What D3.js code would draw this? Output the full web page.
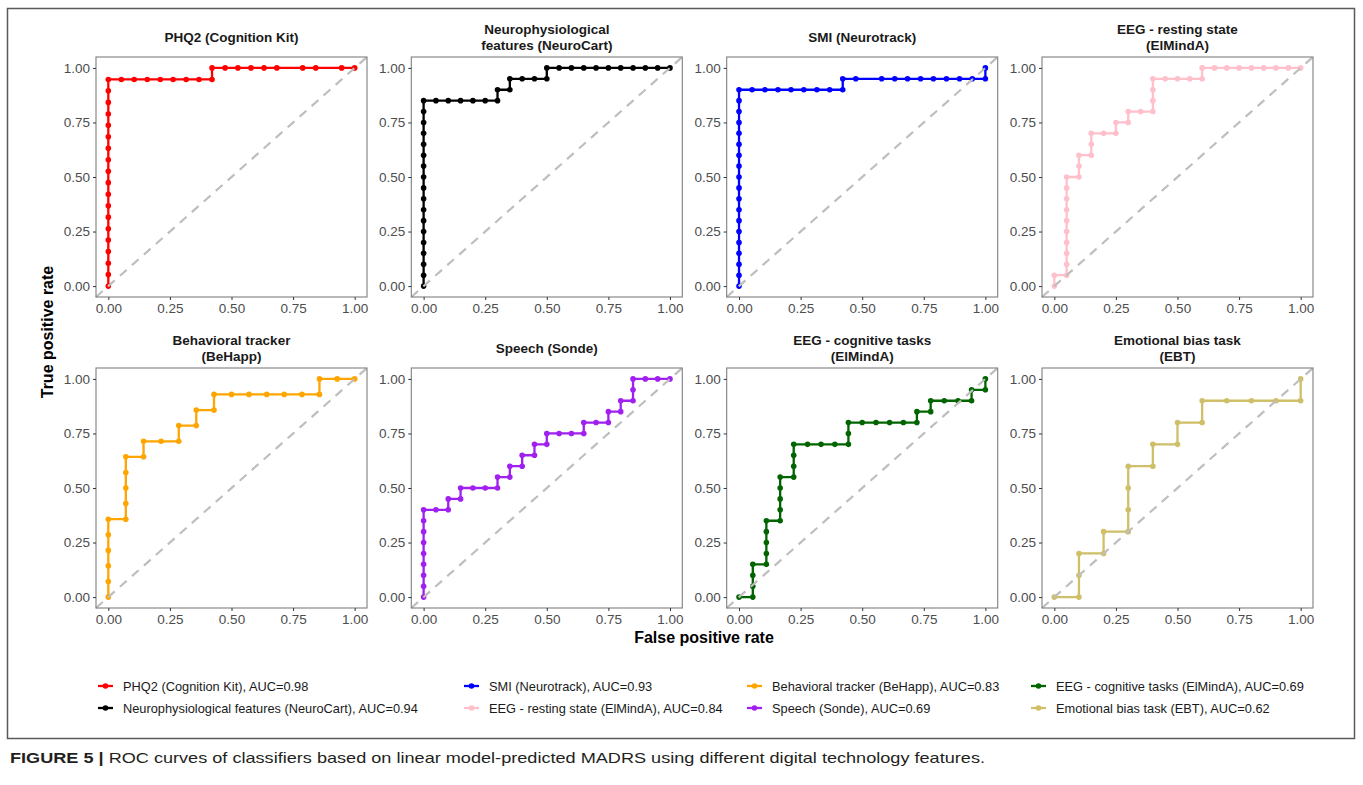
<!DOCTYPE html>
<html>
<head>
<meta charset="utf-8">
<script src="https://cdn.jsdelivr.net/npm/d3@7"></script>
<style>
  body { margin: 0; background: #fff; }
  svg { font-family: "Liberation Sans", Arial, sans-serif; }
</style>
</head>
<body>
<script>
// panel titles, legend labels, tick labels
var titles = [
  ["PHQ2 (Cognition Kit)"], ["Neurophysiological", "features (NeuroCart)"], ["SMI (Neurotrack)"], ["EEG - resting state", "(ElMindA)"],
  ["Behavioral tracker", "(BeHapp)"], ["Speech (Sonde)"], ["EEG - cognitive tasks", "(ElMindA)"], ["Emotional bias task", "(EBT)"]
]
var legendLabels = [
  "PHQ2 (Cognition Kit), AUC=0.98", "Neurophysiological features (NeuroCart), AUC=0.94",
  "SMI (Neurotrack), AUC=0.93", "EEG - resting state (ElMindA), AUC=0.84",
  "Behavioral tracker (BeHapp), AUC=0.83", "Speech (Sonde), AUC=0.69",
  "EEG - cognitive tasks (ElMindA), AUC=0.69", "Emotional bias task (EBT), AUC=0.62"
]
var ticks = [0, 0.25, 0.5, 0.75, 1]

// ROC curves (false positive rate, true positive rate)
var phq2Fpr = [0,0,0,0,0,0,0,0,0,0,0,0,0,0,0,0,0,0,0, .053,.105,.158,.211,.263,.316,.368,.421, .421,.474,.526,.579,.632,.684,.789,.842,.947,1]
var phq2Tpr = [0,.053,.105,.158,.211,.263,.316,.368,.421,.474,.526,.579,.632,.684,.737,.789,.842,.895,.947, .947,.947,.947,.947,.947,.947,.947,.947, 1,1,1,1,1,1,1,1,1,1]

var neuroFpr = [0,0,0,0,0,0,0,0,0,0,0,0,0,0,0,0,0,0, .05,.1,.15,.2,.25,.3, .3,.35,.35,.4,.45,.5, .5,.55,.6,.65,.7,.75,.8,.85,.9,.95,1]
var neuroTpr = [0,.05,.1,.15,.2,.25,.3,.35,.4,.45,.5,.55,.6,.65,.7,.75,.8,.85, .85,.85,.85,.85,.85,.85, .9,.9,.95,.95,.95,.95, 1,1,1,1,1,1,1,1,1,1,1]

var smiFpr = [0,0,0,0,0,0,0,0,0,0,0,0,0,0,0,0,0,0,0, .053,.105,.158,.211,.263,.316,.368,.421, .421,.474,.579,.632,.684,.737,.789,.842,.895,.947,1, 1]
var smiTpr = [0,.05,.1,.15,.2,.25,.3,.35,.4,.45,.5,.55,.6,.65,.7,.75,.8,.85,.9, .9,.9,.9,.9,.9,.9,.9,.9, .95,.95,.95,.95,.95,.95,.95,.95,.95,.95,.95, 1]

var eegRestFpr = [0,0,.05,.05,.05,.05,.05,.05,.05,.05,.05,.05, .1,.1,.1, .15,.15,.15, .2,.25,.25,.3,.3,.35, .4,.4,.4,.4, .45,.5,.55,.6, .6,.65,.7,.75,.8,.85,.9,.95,1]
var eegRestTpr = [0,.05,.05,.1,.15,.2,.25,.3,.35,.4,.45,.5, .5,.55,.6, .6,.65,.7, .7,.7,.75,.75,.8,.8, .8,.85,.9,.95, .95,.95,.95,.95, 1,1,1,1,1,1,1,1,1]

var behappFpr = [0,0,0,0,0,0, .071,.071,.071,.071,.071, .143,.143, .214,.286,.286, .357,.357, .429,.429, .5,.571,.643,.714,.786,.857, .857,.929,1]
var behappTpr = [0,.071,.143,.214,.286,.357, .357,.429,.5,.571,.643, .643,.714, .714,.714,.786, .786,.857, .857,.929, .929,.929,.929,.929,.929,.929, 1,1,1]

var speechFpr = [0,0,0,0,0,0,0,0,0, .05,.1,.1,.15,.15,.2,.25,.3,.3,.35,.35,.4,.4,.45,.45,.5,.5,.55,.6,.65,.65,.7,.75,.75,.8,.8,.85,.85,.85,.9,.95,1]
var speechTpr = [0,.05,.1,.15,.2,.25,.3,.35,.4, .4,.4,.45,.45,.5,.5,.5,.5,.55,.55,.6,.6,.65,.65,.7,.7,.75,.75,.75,.75,.8,.8,.8,.85,.85,.9,.9,.95,1,1,1,1]

var eegCogFpr = [0,.056,.056,.056,.056, .111,.111,.111,.111,.111, .167,.167,.167,.167,.167, .222,.222,.222,.222, .278,.333,.389,.444,.444,.444, .5,.556,.611,.667,.722,.722,.778,.778,.833,.889,.944,.944,1,1]
var eegCogTpr = [0,0,.05,.1,.15, .15,.2,.25,.3,.35, .35,.4,.45,.5,.55, .55,.6,.65,.7, .7,.7,.7,.7,.75,.8, .8,.8,.8,.8,.8,.85,.85,.9,.9,.9,.9,.95,.95,1]

var ebtFpr = [0,.1,.1,.1,.2,.2,.3,.3,.3,.3,.4,.4,.5,.5,.6,.6,.7,.8,.9,1,1]
var ebtTpr = [0,0,.1,.2,.2,.3,.3,.4,.5,.6,.6,.7,.7,.8,.8,.9,.9,.9,.9,.9,1]

var colors = ["#ff0000", "#000000", "#0000ff", "#ffc0cb", "#ffa500", "#a020f0", "#006400", "#cfbf68"]
// legend is filled column by column: PHQ2, Neuro, SMI, EEG rest, BeHapp, Speech, EEG cog, EBT
var legendColors = ["#ff0000", "#000000", "#0000ff", "#ffc0cb", "#ffa500", "#a020f0", "#006400", "#cfbf68"]

var series = [
  [phq2Fpr, phq2Tpr], [neuroFpr, neuroTpr], [smiFpr, smiTpr], [eegRestFpr, eegRestTpr],
  [behappFpr, behappTpr], [speechFpr, speechTpr], [eegCogFpr, eegCogTpr], [ebtFpr, ebtTpr]
]

var W = 1363, H = 785
var svg = d3.select("body").append("svg")
  .attr("width", W)
  .attr("height", H)

// figure frame
svg.append("rect")
  .attr("x", 7.5).attr("y", 8.5)
  .attr("width", 1347).attr("height", 730)
  .attr("fill", "none").attr("stroke", "#5a5a5a").attr("stroke-width", 1.5)

var pw = 271, ph = 240
var lefts = [96, 411.3, 726.7, 1042]
var tops = [57, 368]

var x = d3.scaleLinear().domain([-0.05, 1.05]).range([0, pw])
var y = d3.scaleLinear().domain([-0.05, 1.05]).range([ph, 0])
var fmt = d3.format(".2f")

series.forEach(function (s, i) {
  var col = i % 4, row = Math.floor(i / 4)
  var g = svg.append("g").attr("transform", "translate(" + lefts[col] + "," + tops[row] + ")")

  var pts = s[0].map(function (d, j) { return [d, s[1][j]] })

  g.append("path")
    .attr("d", d3.line().x(function (d) { return x(d[0]) }).y(function (d) { return y(d[1]) })(pts))
    .attr("fill", "none")
    .attr("stroke", colors[i])
    .attr("stroke-width", 2.3)

  g.selectAll("circle.pt")
    .data(pts)
    .enter()
  .append("circle")
    .attr("cx", function (d) { return x(d[0]) })
    .attr("cy", function (d) { return y(d[1]) })
    .attr("r", 2.8)
    .attr("fill", colors[i])

  // chance diagonal across the whole panel
  g.append("line")
    .attr("x1", x(-0.05)).attr("y1", y(-0.05))
    .attr("x2", x(1.05)).attr("y2", y(1.05))
    .attr("stroke", "#bebebe")
    .attr("stroke-width", 2.2)
    .attr("stroke-dasharray", "9,7")

  g.append("rect")
    .attr("width", pw).attr("height", ph)
    .attr("fill", "none").attr("stroke", "#7f7f7f").attr("stroke-width", 1.1)

  var xa = g.append("g").attr("transform", "translate(0," + ph + ")")
    .call(d3.axisBottom(x).tickValues(ticks).tickFormat(fmt).tickSize(3).tickPadding(3))
  var ya = g.append("g")
    .call(d3.axisLeft(y).tickValues(ticks).tickFormat(fmt).tickSize(3).tickPadding(3))
  ;[xa, ya].forEach(function (a) {
    a.select(".domain").remove()
    a.selectAll("line").attr("stroke", "#333")
    a.selectAll("text").attr("fill", "#4d4d4d").style("font-size", "13.5px").style("font-family", "Liberation Sans, Arial, sans-serif")
  })

  var t = titles[i]
  var base = t.length == 1 ? -15 : -23
  g.selectAll("text.title")
    .data(t)
    .enter()
  .append("text")
    .attr("class", "title")
    .attr("x", pw / 2)
    .attr("y", function (d, k) { return base + k * 16 })
    .attr("text-anchor", "middle")
    .style("font-size", "13.5px")
    .style("font-weight", "bold")
    .attr("fill", "#1a1a1a")
    .text(function (d) { return d })
})

// axis titles
svg.append("text")
  .attr("x", 704).attr("y", 643)
  .attr("text-anchor", "middle")
  .style("font-size", "16px").style("font-weight", "bold")
  .text("False positive rate")
svg.append("text")
  .attr("transform", "translate(53,332) rotate(-90)")
  .attr("text-anchor", "middle")
  .style("font-size", "16px").style("font-weight", "bold")
  .text("True positive rate")

// legend, two rows, filled column by column
var legX = [98, 464, 747, 1031]
var legY = [686, 708]
var leg = svg.selectAll("g.leg")
  .data(legendLabels)
  .enter()
.append("g")
  .attr("transform", function (d, i) { return "translate(" + legX[Math.floor(i / 2)] + "," + legY[i % 2] + ")" })
leg.append("line")
  .attr("x1", 0).attr("x2", 15)
  .attr("stroke", function (d, i) { return legendColors[i] })
  .attr("stroke-width", 2.3)
leg.append("circle")
  .attr("cx", 7.5).attr("r", 2.8)
  .attr("fill", function (d, i) { return legendColors[i] })
leg.append("text")
  .attr("x", 25).attr("y", 4.5)
  .style("font-size", "12.8px")
  .attr("fill", "#1a1a1a")
  .text(function (d) { return d })

// caption
var cap = svg.append("text")
  .attr("x", 10).attr("y", 763)
  .attr("textLength", 975).attr("lengthAdjust", "spacingAndGlyphs")
  .style("font-size", "15px")
  .style("font-family", "Liberation Sans Narrow, Liberation Sans, Arial, sans-serif")
  .attr("fill", "#231f20")
cap.append("tspan").style("font-weight", "bold").text("FIGURE 5 | ")
cap.append("tspan").text("ROC curves of classifiers based on linear model-predicted MADRS using different digital technology features.")
</script>
</body>
</html>
